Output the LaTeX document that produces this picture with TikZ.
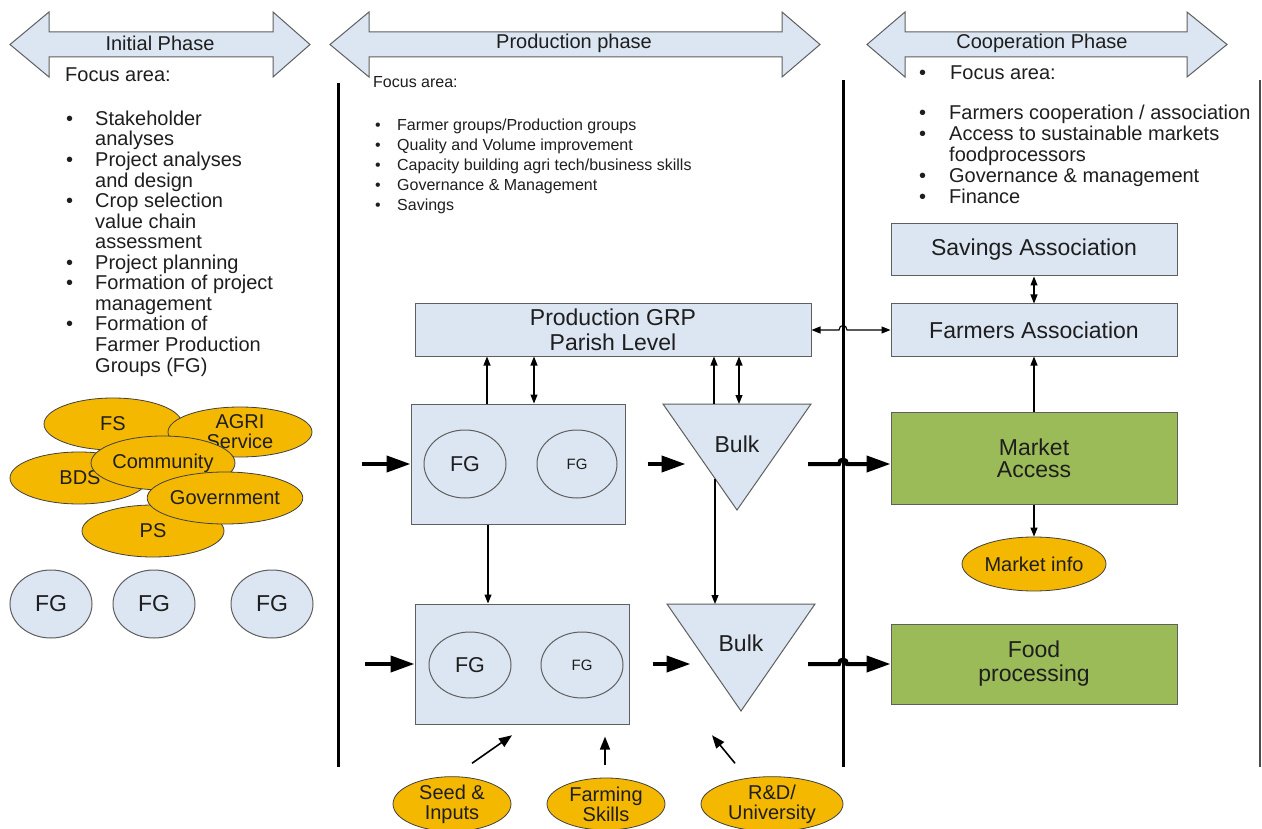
\documentclass[tikz,border=0pt]{standalone}
\usepackage{fontspec}
\setmainfont{Liberation Sans}
\usetikzlibrary{shapes.geometric,arrows.meta}
\definecolor{lblue}{RGB}{220,230,242}
\definecolor{gold}{RGB}{245,184,0}
\definecolor{lgreen}{RGB}{155,187,89}
\definecolor{edge}{RGB}{95,95,95}
\definecolor{txt}{RGB}{30,30,30}
\begin{document}
\begin{tikzpicture}[x=1pt,y=-1pt, font=\fontsize{20}{20.4}\selectfont, text=txt,
  box/.style={draw=edge, fill=lblue, line width=1pt, inner sep=0pt, align=center, font=\fontsize{23}{25}\selectfont},
  gbox/.style={box, fill=lgreen},
  oval/.style={ellipse, draw=black!75, fill=gold, line width=0.8pt, inner sep=0pt, align=center},
  fgoval/.style={ellipse, draw=edge, fill=lblue, line width=1pt, inner sep=0pt},
  fgin/.style={ellipse, draw=edge, line width=1pt, inner sep=0pt},
  tri/.style={draw=edge, fill=lblue, line width=1pt},
  phase/.style={draw=edge, fill=lblue, line width=1pt},
  divider/.style={line width=3pt, black},
  tarrow/.style={line width=1.1pt, black, -{Triangle[length=9pt,width=7pt]}},
  tboth/.style={line width=1.1pt, black, {Triangle[length=9pt,width=7pt]}-{Triangle[length=9pt,width=7pt]}},
  bigarrow/.style={line width=4pt, black, -{Triangle[length=24pt,width=16pt]}},
  sarrow/.style={line width=1.6pt, black, -{Triangle[length=13pt,width=10pt]}},
  plain/.style={inner sep=0pt}]
\useasboundingbox (0,0) rectangle (1262,829);
\fill[white] (0,0) rectangle (1262,829);

% phase arrows
\draw[phase] (10,44.5) -- (49,12) -- (49,32) -- (273,32) -- (273,12) -- (310,44.5) -- (273,77) -- (273,57) -- (49,57) -- (49,77) -- cycle;
\draw[phase] (330,44.5) -- (369,12) -- (369,32) -- (782,32) -- (782,12) -- (820,44.5) -- (782,77) -- (782,57) -- (369,57) -- (369,77) -- cycle;
\draw[phase] (867,44.5) -- (905,12) -- (905,32) -- (1187,32) -- (1187,12) -- (1227,44.5) -- (1187,77) -- (1187,57) -- (905,57) -- (905,77) -- cycle;
\node[plain] (ph1) at (160,43) {Initial Phase};
\node[plain] (ph2) at (574,43) {Production phase};
\node[plain] (ph3) at (1042,43) {Cooperation Phase};

% dividers
\draw[divider] (338,83) -- (338,767);
\draw[divider] (843,80) -- (843,767);
\draw[line width=1.5pt, black!70] (1260,80) -- (1260,767);

% focus texts
\node[plain, anchor=west] (foc1) at (65,75) {Focus area:};
\node[plain, anchor=west, font=\fontsize{16}{20}\selectfont] (foc2) at (373,82) {Focus area:};
\node[plain, anchor=west] (foc3) at (919,73) {\makebox[31pt][l]{\textbullet}Focus area:};

\node[plain, anchor=north west] (list1) at (66,110.5) {\begin{tabular}{@{}l@{}l@{}}
\makebox[29pt][l]{\textbullet} & Stakeholder\\
 & analyses\\
\textbullet & Project analyses\\
 & and design\\
\textbullet & Crop selection\\
 & value chain\\
 & assessment\\
\textbullet & Project planning\\
\textbullet & Formation of project\\
 & management\\
\textbullet & Formation of\\
 & Farmer Production\\
 & Groups (FG)
\end{tabular}};

\node[plain, anchor=north west, font=\fontsize{16}{20}\selectfont] (list2) at (375,116) {\begin{tabular}{@{}l@{}l@{}}
\makebox[22pt][l]{\textbullet} & Farmer groups/Production groups\\
\textbullet & Quality and Volume improvement\\
\textbullet & Capacity building agri tech/business skills\\
\textbullet & Governance \& Management\\
\textbullet & Savings
\end{tabular}};

\node[plain, anchor=north west, font=\fontsize{20}{21}\selectfont] (list3) at (919,104.3) {\begin{tabular}{@{}l@{}l@{}}
\makebox[30pt][l]{\textbullet} & Farmers cooperation / association\\
\textbullet & Access to sustainable markets\\
 & foodprocessors\\
\textbullet & Governance \& management\\
\textbullet & Finance
\end{tabular}};

% left stakeholder ellipses
\node[oval, minimum width=138pt, minimum height=52pt] (fs) at (113,424) {FS};
\node[oval, minimum width=144pt, minimum height=50pt, font=\fontsize{20}{20}\selectfont] (agri) at (240,432) {AGRI\\Service};
\node[oval, minimum width=138pt, minimum height=52pt] (bds) at (79,478) {\hspace*{2pt}BDS};
\node[oval, minimum width=142pt, minimum height=52pt] (ps) at (153,531) {PS};
\node[oval, minimum width=144pt, minimum height=54pt] (comm) at (163,463) {Community};
\node[oval, minimum width=144pt, minimum height=52pt] (gov) at (225,498) {Government};

\node[fgoval, minimum width=82pt, minimum height=68pt, font=\fontsize{23}{23}\selectfont] (lfg1) at (51,604) {FG};
\node[fgoval, minimum width=82pt, minimum height=68pt, font=\fontsize{23}{23}\selectfont] (lfg2) at (154,604) {FG};
\node[fgoval, minimum width=82pt, minimum height=68pt, font=\fontsize{23}{23}\selectfont] (lfg3) at (272,604) {FG};

% production boxes
\node[box, minimum width=396pt, minimum height=52pt] (grp) at (613,330) {Production GRP\\Parish Level};
\node[box, minimum width=214pt, minimum height=120pt] (c1) at (518,464) {};
\node[box, minimum width=214pt, minimum height=120pt] (c2) at (522,664) {};
\node[fgin, minimum width=82pt, minimum height=68pt, font=\fontsize{21.5}{21.5}\selectfont] (fg1) at (465,464) {FG};
\node[fgin, minimum width=80pt, minimum height=68pt, font=\fontsize{15}{15}\selectfont] (fg2) at (577,464) {FG};
\node[fgin, minimum width=82pt, minimum height=66pt, font=\fontsize{21.5}{21.5}\selectfont] (fg3) at (470,665) {FG};
\node[fgin, minimum width=82pt, minimum height=66pt, font=\fontsize{15}{15}\selectfont] (fg4) at (582,665) {FG};

\draw[tri] (663,404) -- (811,404) -- (737,510) -- cycle;
\draw[tri] (667,604) -- (815,604) -- (741,711) -- cycle;
\node[plain, font=\fontsize{23}{23}\selectfont] (bulk1) at (737,444) {Bulk};
\node[plain, font=\fontsize{23}{23}\selectfont] (bulk2) at (741,643) {Bulk};
\coordinate (t1u1) at (714,404);
\coordinate (t1u2) at (739,404);
\coordinate (t1d) at (715,478.5);
\coordinate (t2top) at (715,604);
\coordinate (in1) at (362,464);
\coordinate (in2) at (365,664);
\coordinate (out1) at (808,464);
\coordinate (out2) at (808,664);

% cooperation boxes
\node[box, minimum width=286pt, minimum height=52pt] (sav) at (1034,250) {Savings Association};
\node[box, minimum width=286pt, minimum height=52pt] (fa) at (1034,330) {Farmers Association};
\node[gbox, minimum width=286pt, minimum height=92pt, font=\fontsize{23}{22}\selectfont] (ma) at (1034,458) {Market\\Access};
\node[gbox, minimum width=286pt, minimum height=80pt, font=\fontsize{23}{24}\selectfont] (fp) at (1034,664) {Food\\processing};
\node[oval, minimum width=144pt, minimum height=54pt] (minfo) at (1034,564) {Market info};

% bottom inputs
\node[oval, minimum width=118pt, minimum height=52pt, font=\fontsize{20}{20}\selectfont] (seed) at (452,804) {Seed \&\\Inputs};
\node[oval, minimum width=118pt, minimum height=52pt, font=\fontsize{20}{20}\selectfont] (farm) at (606,804) {Farming\\Skills};
\node[oval, minimum width=142pt, minimum height=52pt, font=\fontsize{20}{20}\selectfont] (rd) at (772,804) {R\&D/\\University};

% connectors
\draw[tarrow] ([xshift=-31pt]c1.north) -- ([xshift=-31pt]c1.north |- grp.south);
\draw[tboth] ([xshift=16pt]c1.north) -- ([xshift=16pt]c1.north |- grp.south);
\draw[tarrow] (t1u1) -- (t1u1 |- grp.south);
\draw[tboth] (t1u2) -- (t1u2 |- grp.south);
\draw[tarrow] ([xshift=-30pt]c1.south) -- ([xshift=-30pt]c1.south |- c2.north);
\draw[tarrow] (t1d) -- (t2top);
\draw[tboth] (grp.east) -- (839,330) .. controls (839,324) and (847,324) .. (847,330) -- (fa.west);
\draw[tboth] (sav.south) -- (fa.north);
\draw[tarrow] (ma.north) -- (fa.south);
\draw[tarrow] (ma.south) -- (minfo.north);

\draw[bigarrow] (in1) -- (c1.west);
\draw[bigarrow] ([xshift=22pt]c1.east) -- ([xshift=60pt]c1.east);
\draw[bigarrow] (out1) -- (839,464) .. controls (839,458) and (847,458) .. (847,464) -- (ma.west |- out1);
\draw[bigarrow] (in2) -- (c2.west);
\draw[bigarrow] ([xshift=23pt]c2.east) -- ([xshift=61pt]c2.east);
\draw[bigarrow] (out2) -- (839,664) .. controls (839,658) and (847,658) .. (847,664) -- (fp.west);

\draw[sarrow] ([xshift=20pt,yshift=13pt]seed.north) -- ([xshift=60pt,yshift=41pt]seed.north);
\draw[sarrow] ([xshift=-1pt,yshift=13pt]farm.north) -- ([xshift=-1pt,yshift=41pt]farm.north);
\draw[sarrow] ([xshift=-37pt,yshift=13pt]rd.north) -- ([xshift=-60pt,yshift=41pt]rd.north);
\end{tikzpicture}
\end{document}
